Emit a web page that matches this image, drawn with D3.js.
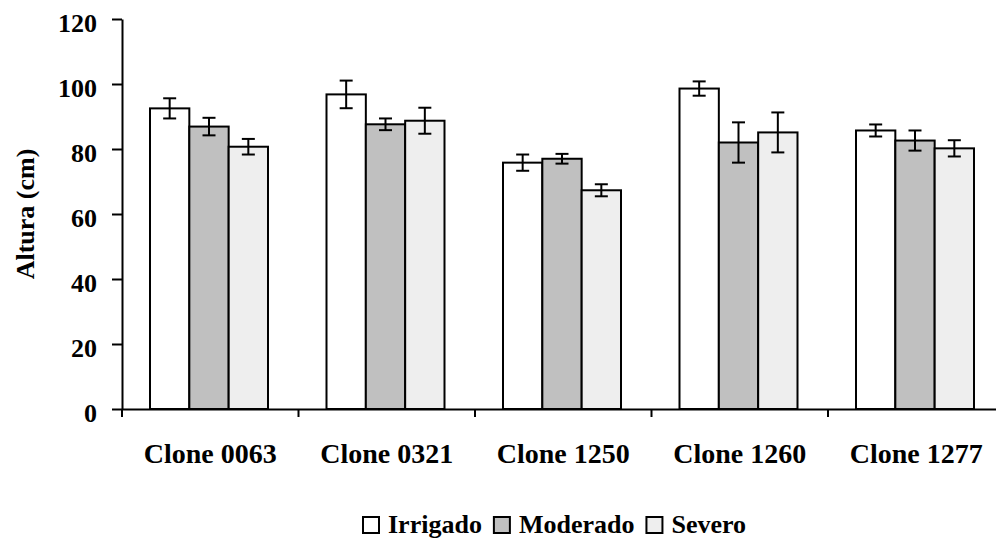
<!DOCTYPE html>
<html>
<head>
<meta charset="utf-8">
<script src="https://cdn.jsdelivr.net/npm/d3@7"></script>
<style>
  body { margin: 0; background: #fff; }
  svg { display: block; font-family: "Liberation Serif", "Times New Roman", serif; font-weight: bold; }
</style>
</head>
<body>
<script>
const clones = ['Clone 0063', 'Clone 0321', 'Clone 1250', 'Clone 1260', 'Clone 1277'];
const series = ['Irrigado', 'Moderado', 'Severo'];
const colors = ['#ffffff', '#c0c0c0', '#eeeeee'];

// mean height (cm) per clone, one array per treatment
const irrigado = [92.5, 96.8, 75.8, 98.6, 85.7];
const moderado = [86.9, 87.6, 77.0, 82.0, 82.6];
const severo = [80.7, 88.7, 67.3, 85.1, 80.2];

// error bar half-length
const errIrrigado = [3.1, 4.25, 2.5, 2.2, 1.85];
const errModerado = [2.7, 1.8, 1.5, 6.2, 3.1];
const errSevero = [2.4, 4.0, 1.85, 6.15, 2.5];

const yTicks = [0, 20, 40, 60, 80, 100, 120];

const values = [irrigado, moderado, severo];
const errors = [errIrrigado, errModerado, errSevero];

const width = 996, height = 541;

const svg = d3.select('body').append('svg')
  .attr('width', width)
  .attr('height', height);

const x0 = d3.scaleBand().domain(clones).range([122, 1004.5]);
const x1 = d3.scaleBand().domain(series).range([28, 146]);
const y = d3.scaleLinear().domain([0, 120]).range([409, 19]);
const color = d3.scaleOrdinal().domain(series).range(colors);

// flatten into rows
const rows = [];
clones.forEach((c, i) => {
  series.forEach((s, j) => {
    rows.push({ clone: c, serie: s, value: values[j][i], err: errors[j][i] });
  });
});

// bars
svg.append('g').selectAll('rect')
  .data(rows)
  .join('rect')
  .attr('x', d => x0(d.clone) + x1(d.serie))
  .attr('y', d => y(d.value))
  .attr('width', x1.bandwidth())
  .attr('height', d => y(0) - y(d.value))
  .attr('fill', d => color(d.serie))
  .attr('stroke', '#000')
  .attr('stroke-width', 2);

// error bars
const eb = svg.append('g').attr('stroke', '#000').attr('stroke-width', 2);
const cx = d => x0(d.clone) + x1(d.serie) + x1.bandwidth() / 2;
eb.selectAll('line.v').data(rows).join('line').attr('class', 'v')
  .attr('x1', cx).attr('x2', cx)
  .attr('y1', d => y(d.value + d.err)).attr('y2', d => y(d.value - d.err));
eb.selectAll('line.t').data(rows).join('line').attr('class', 't')
  .attr('x1', d => cx(d) - 6.5).attr('x2', d => cx(d) + 6.5)
  .attr('y1', d => y(d.value + d.err)).attr('y2', d => y(d.value + d.err));
eb.selectAll('line.b').data(rows).join('line').attr('class', 'b')
  .attr('x1', d => cx(d) - 6.5).attr('x2', d => cx(d) + 6.5)
  .attr('y1', d => y(d.value - d.err)).attr('y2', d => y(d.value - d.err));

// y axis
const yAxis = svg.append('g')
  .attr('transform', 'translate(122,0)')
  .call(d3.axisLeft(y).tickValues(yTicks).tickSize(10).tickPadding(15).tickSizeOuter(0))
  .attr('font-family', null)
  .attr('font-size', 26);
yAxis.select('.domain').attr('stroke-width', 2);
yAxis.selectAll('.tick line').attr('stroke-width', 2);
yAxis.selectAll('.tick text')
  .attr('fill', '#000')
  .attr('dy', '0.48em');

// x axis
const xAxis = svg.append('g')
  .attr('transform', 'translate(0,409)')
  .call(d3.axisBottom(x0).tickSize(0).tickPadding(0))
  .attr('font-family', null)
  .attr('font-size', 28);
xAxis.select('.domain').attr('stroke-width', 2);
xAxis.selectAll('.tick text')
  .attr('fill', '#000')
  .attr('y', 54)
  .attr('dy', 0);
// tick marks between categories
xAxis.append('g').selectAll('line')
  .data(clones)
  .join('line')
  .attr('x1', d => x0(d)).attr('x2', d => x0(d))
  .attr('y1', 0).attr('y2', 8)
  .attr('stroke', '#000').attr('stroke-width', 2);

// y axis title
svg.append('text')
  .attr('transform', 'translate(34,214) rotate(-90)')
  .attr('text-anchor', 'middle')
  .attr('font-size', 26)
  .text('Altura (cm)');

// legend
const legend = svg.append('g');
let lx = 363;
series.forEach(s => {
  legend.append('rect')
    .attr('x', lx).attr('y', 517)
    .attr('width', 16).attr('height', 16)
    .attr('fill', color(s))
    .attr('stroke', '#000').attr('stroke-width', 2);
  const t = legend.append('text')
    .attr('x', lx + 25).attr('y', 533)
    .attr('font-size', 26)
    .text(s);
  lx += 25 + t.node().getComputedTextLength() + 12;
});
</script>
</body>
</html>
